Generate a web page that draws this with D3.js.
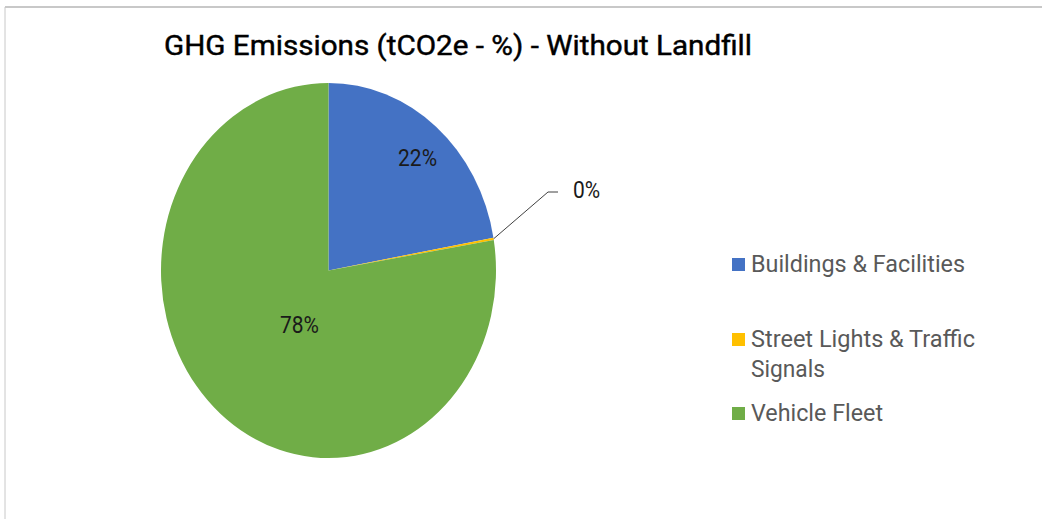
<!DOCTYPE html>
<html>
<head>
<meta charset="utf-8">
<script src="https://cdn.jsdelivr.net/npm/d3@7"></script>
<style>
  body { margin: 0; background: #fff; }
  text { font-family: "Liberation Sans Narrow", Roboto, "DejaVu Sans", sans-serif; }
</style>
</head>
<body>
<div id="vis-container"></div>
<script>
// chart data
const categories = ["Buildings & Facilities", "Street Lights & Traffic Signals", "Vehicle Fleet"];
const values = [22.2, 0.2, 77.6];
const colors = ["#4472C4", "#FFC000", "#70AD47"];
const title = "GHG Emissions (tCO2e - %) - Without Landfill";

let width = 1042;
let height = 519;
let stretch = 1.12; // picture is a bit taller than wide

let svg = d3.select("#vis-container").append("svg").attr("width", width).attr("height", height);

// frame lines (top + left only visible)
svg.append("line").attr("x1", 5).attr("x2", width).attr("y1", 7).attr("y2", 7)
    .attr("stroke", "#c8c8c8").attr("stroke-width", 2);
svg.append("line").attr("x1", 5).attr("x2", 5).attr("y1", 7).attr("y2", height)
    .attr("stroke", "#c8c8c8").attr("stroke-width", 1);

// title
svg.append("text")
    .attr("transform", "translate(164,55) scale(1," + stretch + ")")
    .attr("textLength", 588).attr("lengthAdjust", "spacingAndGlyphs")
    .style("font-size", "25.5px").style("fill", "#000")
    .style("stroke", "#000").style("stroke-width", 0.4)
    .text(title);

let color = d3.scaleOrdinal().domain(categories).range(colors);
let data = categories.map((c, i) => ({ name: c, value: values[i] }));

let radius = 167.5;
let pie = d3.pie().sort(null).value(d => d.value);
let arcs = pie(data);
let arc = d3.arc().innerRadius(0).outerRadius(radius);

let cx = 328.5, cy = 270.5;
let pieG = svg.append("g").attr("transform", "translate(" + cx + "," + cy + ") scale(1," + stretch + ")");

pieG.selectAll("path").data(arcs).enter().append("path")
    .attr("d", arc)
    .attr("fill", d => color(d.data.name));

// labels, mapped back through the vertical stretch
let pt = p => [cx + p[0], cy + p[1] * stretch];
let labelG = svg.append("g");
let fmt = v => Math.round(v) + "%";

// inner labels for big slices (excel "best fit" puts them a little off centroid)
let innerR = [0.8, null, 0.36];
let nudge = [3, null, 10];
arcs.forEach((a, i) => {
    if (innerR[i] === null) return;
    let r = radius * innerR[i];
    let p = pt(d3.arc().innerRadius(r).outerRadius(r).centroid(a));
    labelG.append("text")
        .attr("transform", "translate(" + (p[0] + nudge[i]) + "," + (p[1] + 11) + ") scale(1," + stretch + ")")
        .attr("text-anchor", "middle")
        .style("font-size", "21px").style("fill", "#1a1a1a")
        .text(fmt(a.data.value));
});

// leader line for the tiny slice
let small = arcs[1];
let edge = pt(d3.arc().innerRadius(radius).outerRadius(radius).centroid(small));
let bend = [548, 192];
labelG.append("polyline")
    .attr("points", [edge, bend, [bend[0] + 10, bend[1]]].map(p => p.join(",")).join(" "))
    .attr("fill", "none").attr("stroke", "#404040").attr("stroke-width", 1);
labelG.append("text")
    .attr("transform", "translate(573,198) scale(1," + stretch + ")")
    .style("font-size", "21px").style("fill", "#1a1a1a")
    .text(fmt(small.data.value));

// legend
let legendRows = [
    { lines: ["Buildings & Facilities"], y: 272, w: [214] },
    { lines: ["Street Lights & Traffic", "Signals"], y: 347, w: [224, 74] },
    { lines: ["Vehicle Fleet"], y: 421, w: [132] }
];
let legend = svg.append("g");
legendRows.forEach((row, i) => {
    legend.append("rect")
        .attr("x", 732).attr("y", row.y - 14).attr("width", 13).attr("height", 13)
        .attr("fill", colors[i]);
    row.lines.forEach((t, j) => {
        legend.append("text")
            .attr("transform", "translate(751," + (row.y + j * 30) + ") scale(1," + stretch + ")")
            .attr("textLength", row.w[j]).attr("lengthAdjust", "spacingAndGlyphs")
            .style("font-size", "22px").style("fill", "#595959")
            .text(t);
    });
});
</script>
</body>
</html>
